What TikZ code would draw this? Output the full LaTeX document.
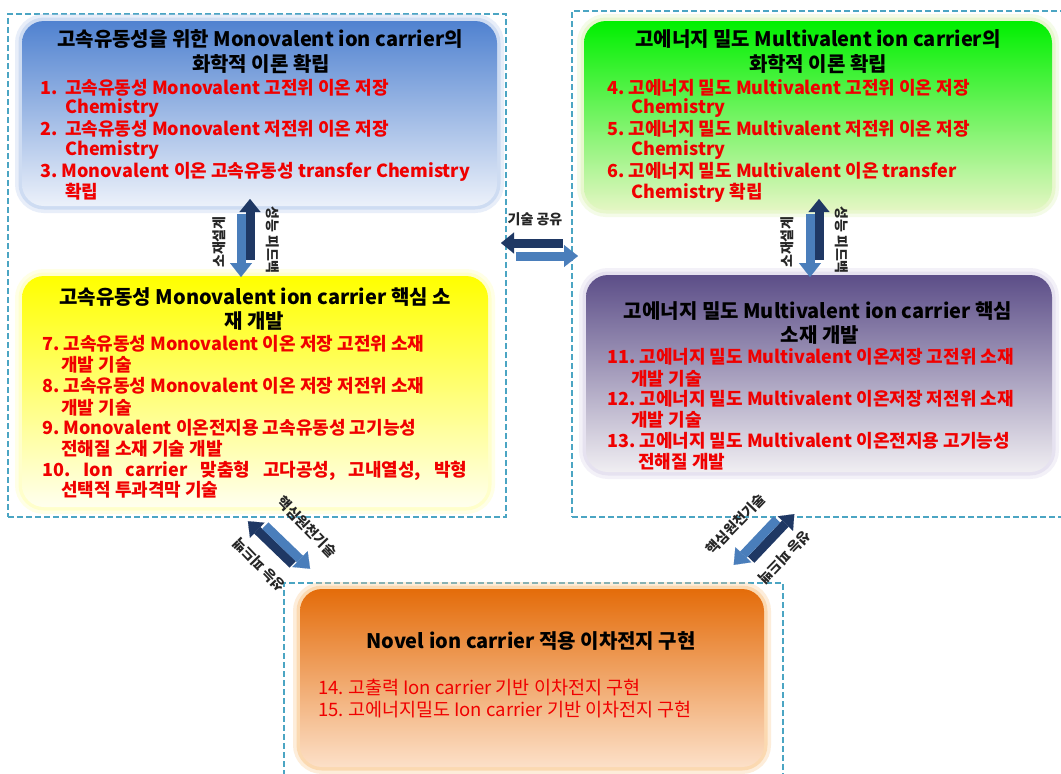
\documentclass[tikz,border=0pt]{standalone}
\usepackage{fontspec}
\setmainfont{Noto Sans CJK KR}
\frenchspacing
\usetikzlibrary{arrows.meta}
\definecolor{dashc}{RGB}{75,165,195}
\definecolor{darkarr}{RGB}{31,56,100}
\definecolor{lightarr}{RGB}{74,126,187}
\definecolor{itemred}{RGB}{240,0,0}
\definecolor{bluetop}{RGB}{80,130,208}
\definecolor{bluemid}{RGB}{150,182,230}
\definecolor{bluebot}{RGB}{236,241,250}
\definecolor{blueglow}{RGB}{190,208,238}
\definecolor{greentop}{RGB}{0,240,0}
\definecolor{greenmid}{RGB}{70,238,55}
\definecolor{greenbot}{RGB}{228,246,195}
\definecolor{greenglow}{RGB}{225,245,190}
\definecolor{yeltop}{RGB}{255,255,0}
\definecolor{yelmid}{RGB}{255,255,70}
\definecolor{yelbot}{RGB}{255,255,238}
\definecolor{yelglow}{RGB}{255,255,185}
\definecolor{purtop}{RGB}{92,78,136}
\definecolor{purmid}{RGB}{152,142,178}
\definecolor{purbot}{RGB}{240,238,242}
\definecolor{purglow}{RGB}{222,216,236}
\definecolor{ortop}{RGB}{228,108,10}
\definecolor{ormid}{RGB}{238,124,34}
\definecolor{orbot}{RGB}{252,224,200}
\definecolor{orglow}{RGB}{250,205,150}
\tikzset{
  frame/.style={draw=dashc, line width=1.6pt, dash pattern=on 6pt off 3pt, inner sep=0pt},
  cbox/.style={rounded corners=22pt, inner sep=0pt,
    preaction={draw=#1, line width=14pt, opacity=0.35},
    preaction={draw=#1, line width=7pt, opacity=0.6}},
  ttl/.style={font=\fontsize{20}{24}\selectfont\bfseries, text=black, inner sep=0pt, anchor=base},
  itm/.style={font=\fontsize{18}{21}\selectfont\bfseries, text=itemred, inner sep=0pt, anchor=base west},
  oitm/.style={font=\fontsize{18.5}{21}\selectfont, text=itemred, inner sep=0pt, anchor=base west},
  lbl/.style={font=\fontsize{14}{16}\selectfont\bfseries, text=black!85, inner sep=0pt},
  darkA/.style={draw=darkarr, line width=9pt, -{Triangle[length=13pt,width=21pt,line width=0.1pt]}},
  lightA/.style={draw=lightarr, line width=9pt, -{Triangle[length=14pt,width=22pt,line width=0.1pt]}}
}
\begin{document}
\begin{tikzpicture}[x=1pt,y=-1pt]
\useasboundingbox (0,0) rectangle (1061,774);
\fill[white] (0,0) rectangle (1061,774);

% dashed frames
\node[frame, minimum width=498pt, minimum height=503pt] (frameL) at (257,265.5) {};
\node[frame, minimum width=498pt, minimum height=506pt] (frameR) at (821,264) {};
\node[frame, minimum width=499pt, minimum height=210pt] (frameB) at (533.5,688) {};

% coloured boxes
\node[cbox=blueglow, top color=bluetop, middle color=bluemid, bottom color=bluebot,
      minimum width=475pt, minimum height=185pt] (blue) at (259.5,113.5) {};
\node[cbox=greenglow, top color=greentop, middle color=greenmid, bottom color=greenbot,
      minimum width=468pt, minimum height=189pt] (green) at (818,115.5) {};
\node[cbox=yelglow, top color=yeltop, middle color=yelmid, bottom color=yelbot,
      minimum width=466pt, minimum height=231pt] (yellow) at (255,391.5) {};
\node[cbox=purglow, top color=purtop, middle color=purmid, bottom color=purbot,
      minimum width=466pt, minimum height=197pt] (purple) at (819,373.5) {};
\node[cbox=orglow, top color=ortop, middle color=ormid, bottom color=orbot,
      minimum width=464pt, minimum height=178pt] (orange) at (532,678) {};

% blue texts
\node[ttl] (bt1) at (260,46) {고속유동성을 위한 Monovalent ion carrier의};
\node[ttl] (bt2) at (261,71) {화학적 이론 확립};
\node[itm] (b1) at (40,94) {\makebox[25pt][l]{1.}고속유동성 Monovalent 고전위 이온 저장};
\node[itm] (b1b) at (65,113) {Chemistry};
\node[itm] (b2) at (40,135) {\makebox[25pt][l]{2.}고속유동성 Monovalent 저전위 이온 저장};
\node[itm] (b2b) at (65,155) {Chemistry};
\node[itm] (b3) at (40,177) {3. Monovalent 이온 고속유동성 transfer Chemistry};
\node[itm] (b3b) at (65,198) {확립};

% green texts
\node[ttl] (gt1) at (818,46) {고에너지 밀도 Multivalent ion carrier의};
\node[ttl] (gt2) at (818,71) {화학적 이론 확립};
\node[itm] (g4) at (607,94) {4. 고에너지 밀도 Multivalent 고전위 이온 저장};
\node[itm] (g4b) at (631,113) {Chemistry};
\node[itm] (g5) at (607,135) {5. 고에너지 밀도 Multivalent 저전위 이온 저장};
\node[itm] (g5b) at (631,155) {Chemistry};
\node[itm] (g6) at (607,177) {6. 고에너지 밀도 Multivalent 이온 transfer};
\node[itm] (g6b) at (631,198) {Chemistry 확립};

% yellow texts
\node[ttl] (yt1) at (255,304) {고속유동성 Monovalent ion carrier 핵심 소};
\node[ttl] (yt2) at (254,328.5) {재 개발};
\node[itm] (y7) at (42,350) {7. 고속유동성 Monovalent 이온 저장 고전위 소재};
\node[itm] (y7b) at (61,371) {개발 기술};
\node[itm] (y8) at (42,392) {8. 고속유동성 Monovalent 이온 저장 저전위 소재};
\node[itm] (y8b) at (61,414) {개발 기술};
\node[itm] (y9) at (42,434) {9. Monovalent 이온전지용 고속유동성 고기능성};
\node[itm] (y9b) at (61,455) {전해질 소재 기술 개발};
\node[itm] (y10) at (42,476) {\makebox[425pt][s]{10. Ion carrier 맞춤형 고다공성, 고내열성, 박형}};
\node[itm] (y10b) at (61,496) {선택적 투과격막 기술};

% purple texts
\node[ttl] (pt1) at (818,318) {고에너지 밀도 Multivalent ion carrier 핵심};
\node[ttl] (pt2) at (820,342) {소재 개발};
\node[itm] (p11) at (607,363) {11. 고에너지 밀도 Multivalent 이온저장 고전위 소재};
\node[itm] (p11b) at (631,385) {개발 기술};
\node[itm] (p12) at (607,405) {12. 고에너지 밀도 Multivalent 이온저장 저전위 소재};
\node[itm] (p12b) at (631,426.5) {개발 기술};
\node[itm] (p13) at (607,447) {13. 고에너지 밀도 Multivalent 이온전지용 고기능성};
\node[itm] (p13b) at (638,468.5) {전해질 개발};

% orange texts
\node[ttl] (ot1) at (531,648) {Novel ion carrier 적용 이차전지 구현};
\node[oitm] (o14) at (318,694.5) {14. 고출력 Ion carrier 기반 이차전지 구현};
\node[oitm] (o15) at (318,716) {15. 고에너지밀도 Ion carrier 기반 이차전지 구현};

% arrow end points
\coordinate (lvDs) at (250,260); \coordinate (lvDt) at (250,199);
\coordinate (lvLs) at (241,214); \coordinate (lvLt) at (241,277);
\coordinate (rvDs) at (819,260); \coordinate (rvDt) at (819,199);
\coordinate (rvLs) at (810,214); \coordinate (rvLt) at (810,277);
\coordinate (hDs) at (563,243); \coordinate (hDt) at (501,243);
\coordinate (hLs) at (516,256); \coordinate (hLt) at (578,256);
\coordinate (ldDs) at (292.7,564.4); \coordinate (ldDt) at (247.9,521.2);
\coordinate (ldLs) at (265.3,525.6); \coordinate (ldLt) at (310.1,568.8);
\coordinate (rdDs) at (751.1,559.7); \coordinate (rdDt) at (794.3,514.1);
\coordinate (rdLs) at (776.9,519.3); \coordinate (rdLt) at (733.7,564.9);

% arrows
\draw[darkA] (lvDs) -- (lvDt);
\draw[lightA] (lvLs) -- (lvLt);
\draw[darkA] (rvDs) -- (rvDt);
\draw[lightA] (rvLs) -- (rvLt);
\draw[darkA] (hDs) -- (hDt);
\draw[lightA] (hLs) -- (hLt);
\draw[darkA] (ldDs) -- (ldDt);
\draw[lightA] (ldLs) -- (ldLt);
\draw[darkA] (rdDs) -- (rdDt);
\draw[lightA] (rdLs) -- (rdLt);

% arrow labels
\node[lbl, rotate=90] (lvA) at (219,242) {소재설계};
\node[lbl, rotate=-90] (lvB) at (273,240) {성능 피드백};
\node[lbl, rotate=90] (rvA) at (787,242) {소재설계};
\node[lbl, rotate=-90] (rvB) at (842,240) {성능 피드백};
\node[lbl] (hA) at (535,219) {기술 공유};
\node[lbl, rotate=-46] (ldA) at (307,527) {핵심원천기술};
\node[lbl, rotate=134] (ldB) at (259,565) {성능 피드백};
\node[lbl, rotate=46] (rdA) at (736,524) {핵심원천기술};
\node[lbl, rotate=-134] (rdB) at (785,557) {성능 피드백};
\end{tikzpicture}
\end{document}
